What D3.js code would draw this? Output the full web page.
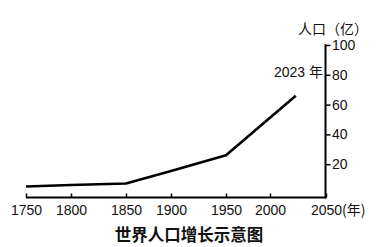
<!DOCTYPE html>
<html>
<head>
<meta charset="utf-8">
<script src="https://cdn.jsdelivr.net/npm/d3@7"></script>
<style>
  body { margin: 0; background: #fff; }
  .num { font-family: "Liberation Sans", Arial, sans-serif; font-size: 14px; fill: #111; }
  .cjk { font-family: "Noto Sans CJK SC", sans-serif; fill: #111; }
</style>
</head>
<body>
<svg id="chart" width="377" height="247"></svg>
<script>
// data (population in 亿)
var years = [1750, 1800, 1850, 1900, 1950, 2023];
var population = [5, 6, 7, 15.5, 26, 66];
var xTicks = [1750, 1800, 1850, 1900, 1950, 2000, 2050];
var yTicks = [20, 40, 60, 80, 100];

var svg = d3.select('#chart');
var baseY = 197.5;   // x axis line
var axisX = 325.5;   // y axis line

// the year axis is not evenly spaced in the original, so piecewise
var x = d3.scaleLinear()
    .domain(xTicks)
    .range([26, 71, 126, 171, 226, 270, 326]);

var y = d3.scaleLinear()
    .domain([0, 100])
    .range([194, 45]);

// x axis, ticks pointing up
var xAxis = d3.axisBottom(x)
    .tickValues(xTicks)
    .tickSizeInner(-4)
    .tickSizeOuter(0)
    .tickPadding(7.5)
    .tickFormat(d3.format('d'));

var gx = svg.append('g')
    .attr('transform', 'translate(0,' + baseY + ')')
    .call(xAxis);
gx.select('.domain').attr('stroke-width', 2).attr('d', 'M' + x(1750) + ',0H' + axisX);
gx.selectAll('.tick line').attr('stroke-width', 1.5);
gx.selectAll('.tick text').attr('class', 'num');
gx.attr('font-size', null).attr('font-family', null);

svg.append('text')
    .attr('class', 'cjk')
    .attr('x', 342)
    .attr('y', 215)
    .style('font-size', '14px')
    .text('(年)');

// y axis on the right
var yAxis = d3.axisRight(y)
    .tickValues(yTicks)
    .tickSizeInner(5)
    .tickSizeOuter(0)
    .tickPadding(1.5);

var gy = svg.append('g')
    .attr('transform', 'translate(' + axisX + ',0)')
    .call(yAxis);
gy.select('.domain').remove();
gy.attr('font-size', null).attr('font-family', null);
gy.selectAll('.tick line').attr('stroke-width', 1.5);
gy.selectAll('.tick text').attr('class', 'num');

svg.append('line')
    .attr('x1', axisX).attr('x2', axisX)
    .attr('y1', y(100) - 0.75).attr('y2', baseY + 1)
    .attr('stroke', '#000')
    .attr('stroke-width', 2);

svg.append('text')
    .attr('class', 'cjk')
    .attr('x', 368)
    .attr('y', 34)
    .attr('text-anchor', 'end')
    .style('font-size', '14px')
    .text('人口（亿）');

// population line
var line = d3.line()
    .x(function(d, i) { return x(years[i]); })
    .y(function(d) { return y(d); });

svg.append('path')
    .datum(population)
    .attr('d', line)
    .attr('fill', 'none')
    .attr('stroke', '#000')
    .attr('stroke-width', 2.6)
    .attr('stroke-linejoin', 'round');

svg.append('text')
    .attr('x', 323)
    .attr('y', 77)
    .attr('text-anchor', 'end')
    .html('<tspan class="num">2023 </tspan><tspan class="cjk" style="font-size:14px">年</tspan>');

// title
svg.append('text')
    .attr('class', 'cjk')
    .attr('x', 189)
    .attr('y', 241)
    .attr('text-anchor', 'middle')
    .style('font-size', '16.5px')
    .style('font-weight', 'bold')
    .text('世界人口增长示意图');
</script>
</body>
</html>
